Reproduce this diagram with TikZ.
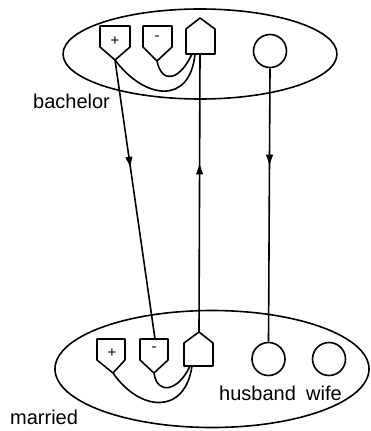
\documentclass[tikz,border=0pt]{standalone}
\usepackage{fontspec}
\setmainfont{Liberation Sans}
\usetikzlibrary{arrows.meta,decorations.markings}
\tikzset{
  ln/.style={line width=1.6pt, line join=round},
  lbl/.style={font=\fontsize{20}{22}\selectfont, anchor=base west, inner sep=0pt},
  ring/.style={ln, draw, circle, minimum size=33pt, inner sep=0pt},
  midarrow/.style={postaction={decorate}, decoration={markings,
     mark=at position #1 with {\arrow{Latex[length=12pt,width=7.5pt]}}}},
  sym/.style={font=\fontsize{15}{16}\selectfont, inner sep=0pt}
}
\begin{document}
\begin{tikzpicture}[x=1pt,y=-1pt]
\useasboundingbox[fill=white] (0,0) rectangle (371,431);
% ellipses
\draw[ln] (200,54) ellipse [x radius=137pt, y radius=45pt];
\draw[ln] (212,369) ellipse [x radius=157pt, y radius=58.5pt];
% top symbols
\draw[ln] (100,26) -- (130,26) -- (130,47) -- (115,60) -- (100,47) -- cycle;
\coordinate (tpl) at (115,60);
\node[sym] (tplus) at (115,41) {+};
\draw[ln] (143,26) -- (172,26) -- (172,47) -- (157,61) -- (143,47) -- cycle;
\coordinate (tmi) at (157,61);
\node[sym] (tminus) at (157,38) {-};
\draw[ln] (186,54) -- (215,54) -- (215,29) -- (200,18) -- (186,29) -- cycle;
\coordinate (tho) at (200,54);
\coordinate (thl) at (195,54);
\coordinate (thm) at (192,54);
\draw[ln] (tpl) .. controls (145,100) and (190,105) .. (thl);
\draw[ln] (tmi) .. controls (162,85) and (180,80) .. (thm);
\node[ring] (tc) at (270,51) {};
% bottom symbols
\draw[ln] (97,339) -- (125,339) -- (125,360) -- (113,373) -- (97,360) -- cycle;
\coordinate (bpl) at (113,373);
\node[sym] (bplus) at (112,353) {+};
\draw[ln] (140,339) -- (168,339) -- (168,360) -- (154,373) -- (140,360) -- cycle;
\coordinate (bmi) at (154,373);
\coordinate (bmitop) at (155,339);
\node[sym] (bminus) at (154,349) {-};
\draw[ln] (184,366) -- (213,366) -- (213,343) -- (199,332) -- (184,343) -- cycle;
\coordinate (bho) at (199,332);
\coordinate (bhl) at (192,366);
\coordinate (bhm) at (190,366);
\draw[ln] (bpl) .. controls (140,412) and (185,415) .. (bhl);
\draw[ln] (bmi) .. controls (157,395) and (178,392) .. (bhm);
\node[ring] (hus) at (268.5,359) {};
\node[ring] (wif) at (329,359) {};
% connectors
\draw[ln, midarrow=0.39] (tpl) -- (bmitop);
\draw[ln, midarrow=0.61] (bho) -- (tho);
\draw[ln, midarrow=0.36] (tc.south) -- (hus.north);
% labels
\node[lbl] (bach) at (33,108) {bachelor};
\node[lbl] (marr) at (10,424) {married};
\node[lbl] (husl) at (219,400) {husband};
\node[lbl] (wifl) at (306,400) {wife};
\end{tikzpicture}
\end{document}
